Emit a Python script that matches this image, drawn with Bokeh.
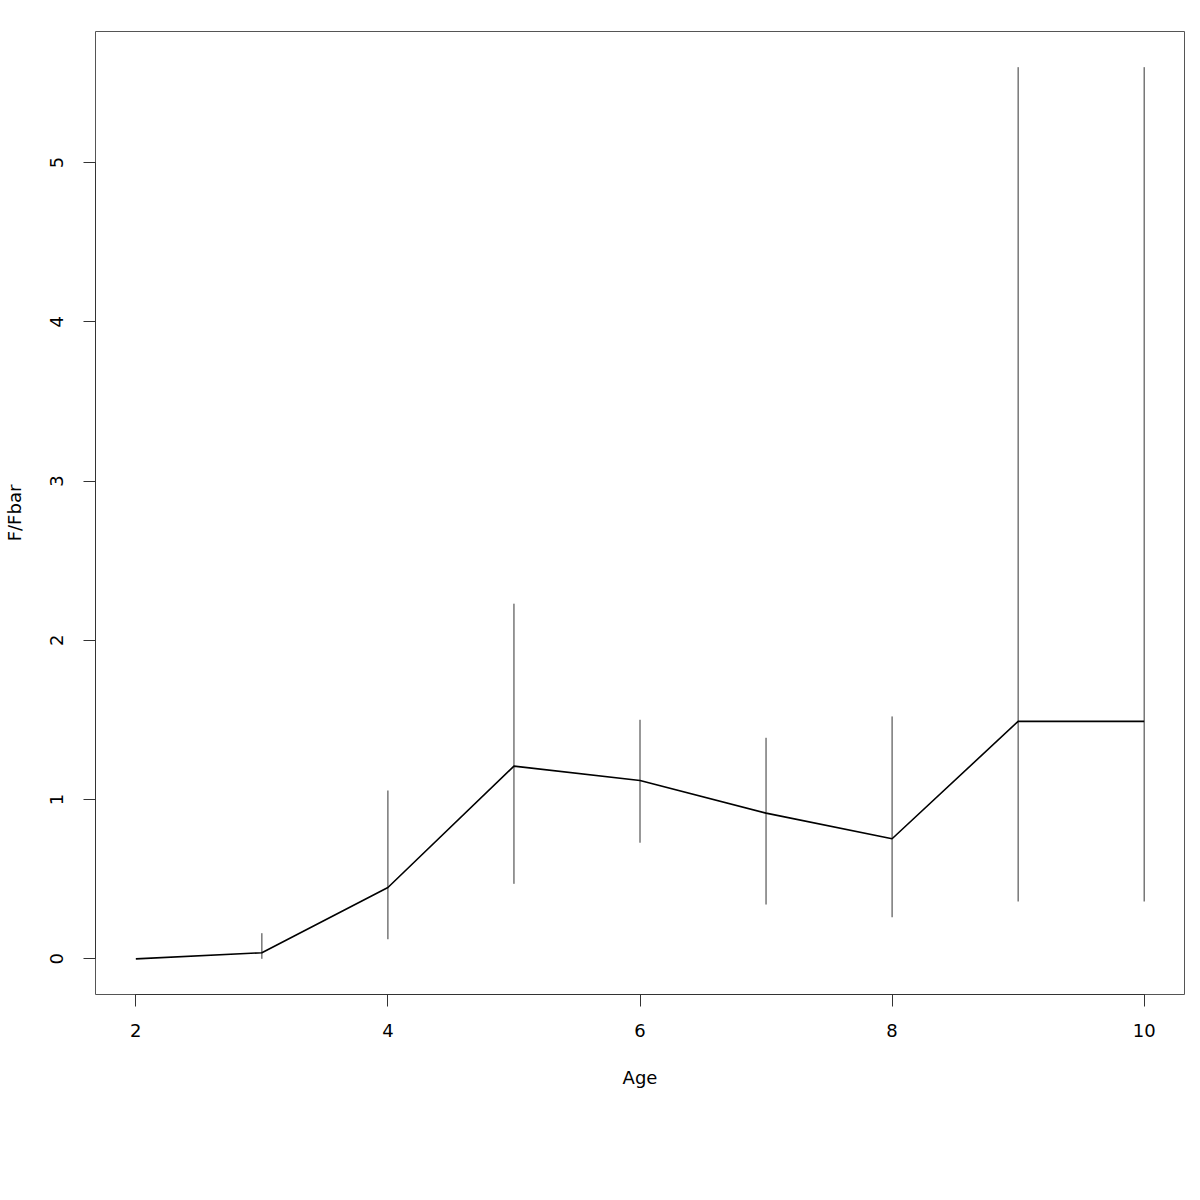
from bokeh.plotting import figure
from bokeh.models import ColumnDataSource, FixedTicker, Range1d
from bokeh.embed import file_html
from bokeh.resources import INLINE

ages = [2, 3, 4, 5, 6, 7, 8, 9, 10]
f_fbar = [0.0, 0.038, 0.448, 1.210, 1.120, 0.915, 0.754, 1.491, 1.491]
upper = [0.0, 0.161, 1.057, 2.230, 1.501, 1.388, 1.522, 5.599, 5.599]
lower = [0.0, 0.0, 0.123, 0.471, 0.729, 0.341, 0.261, 0.360, 0.360]
x_ticks = [2, 4, 6, 8, 10]
y_ticks = [0, 1, 2, 3, 4, 5]

line_src = ColumnDataSource(dict(age=ages, f=f_fbar))
bar_src = ColumnDataSource(dict(age=ages[1:], lo=lower[1:], hi=upper[1:]))

FONT = "DejaVu Sans"

p = figure(width=1192, height=1192, output_backend="svg", toolbar_location=None,
           x_range=Range1d(1.68, 10.32), y_range=Range1d(-0.224, 5.823),
           min_border_left=95, min_border_right=8, min_border_top=31, min_border_bottom=198)
p.background_fill_color = "white"
p.border_fill_color = "white"
p.outline_line_color = "#555555"
p.outline_line_width = 1
p.xgrid.visible = False
p.ygrid.visible = False

p.segment(x0="age", y0="lo", x1="age", y1="hi", source=bar_src,
          line_color="#333333", line_width=1)
p.line(x="age", y="f", source=line_src, line_color="black", line_width=1.6)

for ax, ticks in ((p.xaxis, x_ticks), (p.yaxis, y_ticks)):
    ax.ticker = FixedTicker(ticks=ticks)
    ax.bounds = (min(ticks), max(ticks))
    ax.axis_line_color = "#333333"
    ax.major_tick_line_color = "#333333"
    ax.major_tick_out = 12
    ax.major_tick_in = 0
    ax.minor_tick_line_color = None
    ax.major_label_text_font = FONT
    ax.major_label_text_font_size = "18px"
    ax.major_label_text_color = "black"
    ax.axis_label_text_font = FONT
    ax.axis_label_text_font_size = "18px"
    ax.axis_label_text_font_style = "normal"
    ax.axis_label_text_color = "black"

p.xaxis.axis_label = "Age"
p.yaxis.axis_label = "F/Fbar"
p.xaxis.major_label_standoff = 17
p.yaxis.major_label_standoff = 20
p.yaxis.major_label_orientation = "vertical"
p.xaxis.axis_label_standoff = 27
p.yaxis.axis_label_standoff = 23

open("out.html", "w").write(file_html(p, INLINE))
